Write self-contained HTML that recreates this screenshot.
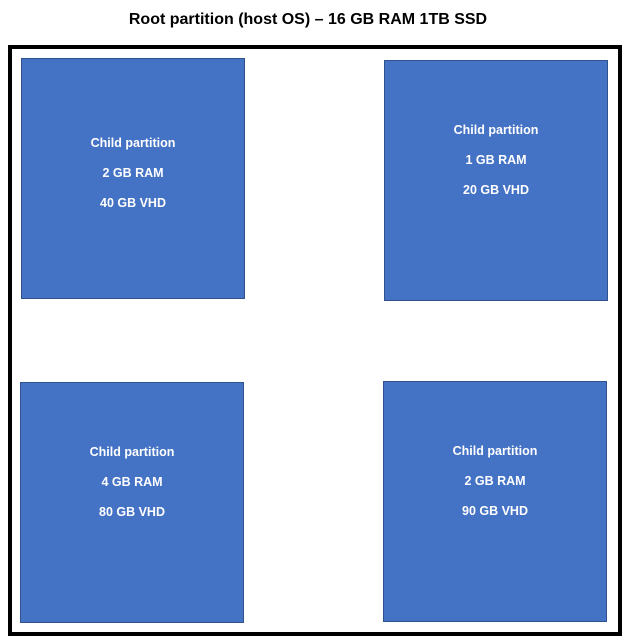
<!DOCTYPE html>
<html><head><meta charset="utf-8"><style>
body{margin:0;width:630px;height:643px;background:#fff;position:relative;overflow:hidden;font-family:"Liberation Sans",sans-serif}
.title{position:absolute;left:0;width:616px;top:11px;text-align:center;font-weight:bold;font-size:16px;color:#000}
.outer{position:absolute;left:8px;top:45px;width:606px;height:583px;border:4px solid #000}
.box{position:absolute;width:222px;height:239px;background:#4472C4;border:1px solid #2F528F;color:#fff;font-weight:bold;font-size:12.5px;text-align:center}
.box div{position:absolute;left:0;right:0}
</style></head><body>
<div class="title">Root partition (host OS) – 16 GB RAM 1TB SSD</div>
<div class="outer"></div>
<div class="box" style="left:21px;top:58px"><div style="top:77px">Child partition</div><div style="top:107px">2 GB RAM</div><div style="top:137px">40 GB VHD</div></div>
<div class="box" style="left:384px;top:60px"><div style="top:62px">Child partition</div><div style="top:92px">1 GB RAM</div><div style="top:122px">20 GB VHD</div></div>
<div class="box" style="left:20px;top:382px"><div style="top:62px">Child partition</div><div style="top:92px">4 GB RAM</div><div style="top:122px">80 GB VHD</div></div>
<div class="box" style="left:383px;top:381px"><div style="top:62px">Child partition</div><div style="top:92px">2 GB RAM</div><div style="top:122px">90 GB VHD</div></div>
</body></html>
